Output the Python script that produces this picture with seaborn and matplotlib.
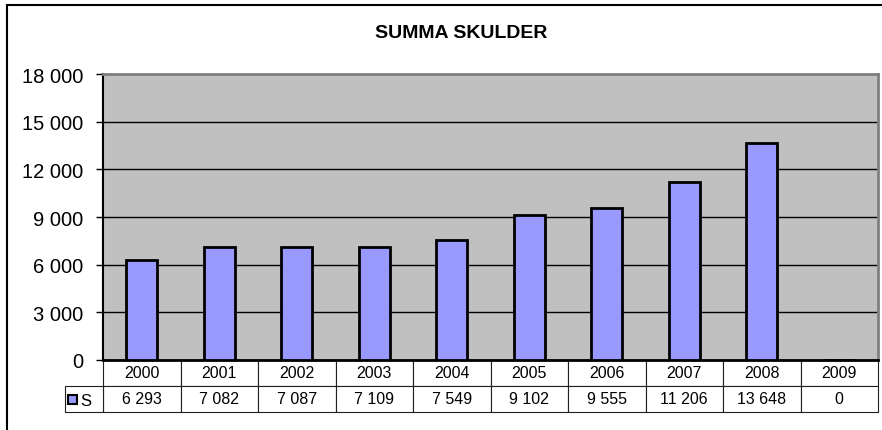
import numpy as np
import pandas as pd
import seaborn as sns
import matplotlib.pyplot as plt
from matplotlib.patches import Rectangle

years = ['2000', '2001', '2002', '2003', '2004', '2005', '2006', '2007', '2008', '2009']
skulder = [6293, 7082, 7087, 7109, 7549, 9102, 9555, 11206, 13648, 0]
series_name = 'S'
y_ticks = [0, 3000, 6000, 9000, 12000, 15000, 18000]

def fmt(v):
    return f"{v:,}".replace(",", " ")

sns.set_style("white")
plt.rcParams['font.family'] = ['Liberation Sans', 'DejaVu Sans']
plt.rcParams['text.color'] = 'black'
plt.rcParams['ytick.color'] = 'black'

df = pd.DataFrame({'year': years, 'value': skulder})

fig = plt.figure(figsize=(8.82, 4.31), dpi=100)
ax = fig.add_axes([103/882, 1 - 361/431, 775/882, 286/431])
ax.set_facecolor('#C0C0C0')

sns.barplot(data=df, x='year', y='value', color='#9999FF', saturation=1,
            edgecolor='black', linewidth=2, width=0.4, ax=ax, zorder=3)

ax.set_ylim(0, 18000)
ax.set_yticks(y_ticks)
ax.set_yticklabels([fmt(t) for t in y_ticks], fontsize=14.5)
ax.yaxis.grid(True, color='black', linewidth=1)
ax.set_axisbelow(True)
ax.tick_params(axis='y', direction='out', length=5, width=1, color='black', left=True, pad=9)
ax.set_xticks([])
ax.set_xlabel('')
ax.set_ylabel('')
for side in ['top', 'right']:
    ax.spines[side].set_color('#808080')
    ax.spines[side].set_linewidth(2)
ax.spines['left'].set_color('black')
ax.spines['left'].set_linewidth(1.5)
ax.spines['bottom'].set_color('black')
ax.spines['bottom'].set_linewidth(2)

fig.text(461 / 882, 1 - 33 / 431, 'SUMMA SKULDER', fontsize=14, fontweight='bold',
         ha='center', va='center')

# data table under the axis
row_h = 26 / 286
lab_w = 38 / 775
tbl = ax.table(cellText=[[fmt(v) for v in skulder]], colLabels=years,
               cellLoc='center', bbox=[0, -2 * row_h, 1, 2 * row_h])
tbl.auto_set_font_size(False)
tbl.set_fontsize(11.5)
for key, cell in tbl.get_celld().items():
    cell.set_edgecolor('#202020')
    cell.set_linewidth(0.8)
    cell.set_facecolor('white')

# legend cell with key
ax.add_patch(Rectangle((-lab_w, -2 * row_h), lab_w, row_h, transform=ax.transAxes,
                       clip_on=False, facecolor='white', edgecolor='#202020',
                       linewidth=0.8, zorder=4))
ax.add_patch(Rectangle(((68 - 103) / 775, (361 - 405) / 286), 9 / 775, 9 / 286,
                       transform=ax.transAxes, clip_on=False, facecolor='#9999FF',
                       edgecolor='black', linewidth=1.5, zorder=5))
ax.text((80 - 103) / 775, -1.55 * row_h, series_name, transform=ax.transAxes,
        fontsize=12, ha='left', va='center', zorder=6)

# chart area border (cropped at right and bottom)
fig.add_artist(Rectangle((7 / 882, -0.5), 2, 1.5 - 6 / 431, transform=fig.transFigure,
                         fill=False, edgecolor='black', linewidth=1.5))

fig.savefig('out.png', dpi=100)
